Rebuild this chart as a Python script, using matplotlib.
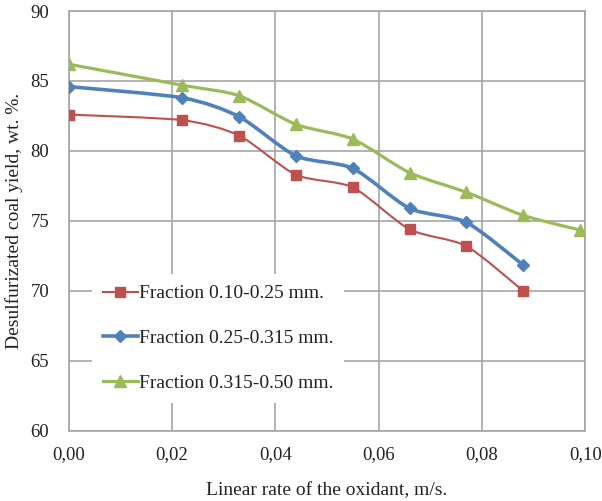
import numpy as np
import matplotlib
matplotlib.use("Agg")
import matplotlib.pyplot as plt
from matplotlib.path import Path
from matplotlib.patches import PathPatch
from matplotlib.lines import Line2D

# ---- data ----
x_rate = [0.000, 0.022, 0.033, 0.044, 0.055, 0.066, 0.077, 0.088, 0.099]
y_fr1 = [82.6, 82.2, 81.1, 78.3, 77.4, 74.4, 73.2, 70.0]          # 0.10-0.25 mm
y_fr2 = [84.6, 83.8, 82.45, 79.65, 78.76, 75.9, 74.9, 71.85]      # 0.25-0.315 mm
y_fr3 = [86.2, 84.7, 83.95, 81.9, 80.85, 78.45, 77.05, 75.4, 74.35]  # 0.315-0.50 mm
labels = ["Fraction 0.10-0.25 mm.", "Fraction 0.25-0.315 mm.", "Fraction 0.315-0.50 mm."]
x_ticks = [0.00, 0.02, 0.04, 0.06, 0.08, 0.10]
x_tick_labels = ["0,00", "0,02", "0,04", "0,06", "0,08", "0,10"]
y_ticks = [60, 65, 70, 75, 80, 85, 90]

colors = ["#C0504D", "#4F81BD", "#9BBB59"]
markers = ["s", "D", "^"]
msizes = [6.5, 6.5, 8]
lws = [1.5, 2.6, 2.3]

plt.rcParams['font.family'] = ['Liberation Serif', 'DejaVu Serif']

fig = plt.figure(figsize=(6.02, 5.01), dpi=100)
ax = fig.add_axes([0.114, 0.140, 0.858, 0.838])


def smooth_path(xs, ys, k=8.0):
    pts = np.column_stack([xs, ys])
    n = len(pts)
    verts = [pts[0]]
    codes = [Path.MOVETO]
    for i in range(n - 1):
        p0 = pts[i - 1] if i > 0 else pts[i]
        p1 = pts[i]
        p2 = pts[i + 1]
        p3 = pts[i + 2] if i + 2 < n else pts[i + 1]
        c1 = p1 + (p2 - p0) / k
        c2 = p2 - (p3 - p1) / k
        verts += [c1, c2, p2]
        codes += [Path.CURVE4] * 3
    return Path(verts, codes)


series = [y_fr1, y_fr2, y_fr3]
handles = []
for ys, c, m, ms, lw, lab in zip(series, colors, markers, msizes, lws, labels):
    xs = x_rate[:len(ys)]
    patch = PathPatch(smooth_path(xs, ys), facecolor="none", edgecolor=c, lw=lw,
                      zorder=3, capstyle="round", joinstyle="round")
    ax.add_patch(patch)
    ax.plot(xs, ys, linestyle="none", marker=m, markersize=ms, color=c,
            markeredgecolor=c, zorder=4)
    handles.append(Line2D([], [], color=c, lw=lw, marker=m, markersize=ms,
                          markeredgecolor=c))

ax.set_xlim(0, 0.10)
ax.set_ylim(60, 90)
ax.set_xticks(x_ticks)
ax.set_xticklabels(x_tick_labels)
ax.set_yticks(y_ticks)
ax.tick_params(length=0, labelsize=13.5, colors="#222222")
ax.tick_params(axis="y", pad=14)
ax.tick_params(axis="x", pad=11)
ax.grid(True, color="#A6A6A6", lw=1.2)
ax.set_axisbelow(True)
for s in ax.spines.values():
    s.set_color("#A6A6A6")
    s.set_linewidth(1.2)

ax.set_xlabel("Linear rate of the oxidant, m/s.", fontsize=14, labelpad=14, color="#222222")
ax.set_ylabel("Desulfurizated coal yield, wt. %.", fontsize=14, labelpad=5, color="#222222")

leg = ax.legend(handles=handles, labels=labels, loc="lower left",
                bbox_to_anchor=(0.045, 0.067), borderaxespad=0,
                fontsize=14, frameon=True, facecolor="white", edgecolor="none",
                framealpha=1, fancybox=False, handlelength=1.8, handletextpad=0.05,
                labelspacing=1.4, borderpad=0.55)
for t in leg.get_texts():
    t.set_color("#222222")

fig.savefig("out.png", dpi=100)
